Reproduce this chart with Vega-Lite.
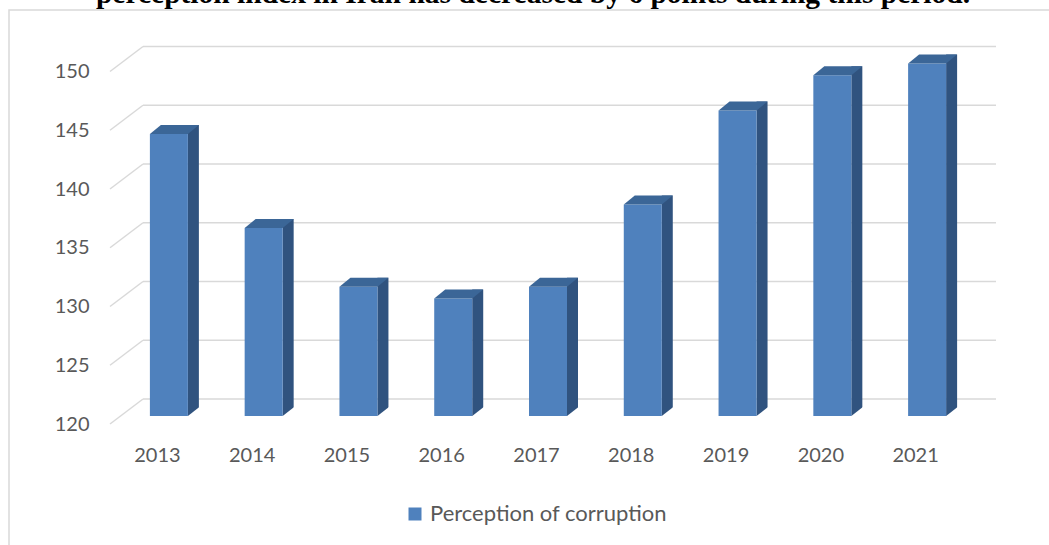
{
  "$schema": "https://vega.github.io/schema/vega-lite/v6.json",
  "autosize": {"type": "none"},
  "width": 1045,
  "height": 540,
  "padding": {"left": 9, "top": 10, "right": -5, "bottom": -5},
  "background": "white",
  "config": {"view": {"stroke": "#D9D9D9", "strokeWidth": 1.5}},
  "title": {
    "text": "perception index in Iran has decreased by 6 points during this period.",
    "font": "Liberation Serif",
    "fontSize": 29.5,
    "fontWeight": "bold",
    "color": "#000000",
    "anchor": "middle",
    "frame": "group",
    "baseline": "alphabetic",
    "offset": -22,
    "dx": 1.5
  },
  "datasets": {
    "bars": [
      {"year": "2013", "value": 144, "series": "Perception of corruption"},
      {"year": "2014", "value": 136, "series": "Perception of corruption"},
      {"year": "2015", "value": 131, "series": "Perception of corruption"},
      {"year": "2016", "value": 130, "series": "Perception of corruption"},
      {"year": "2017", "value": 131, "series": "Perception of corruption"},
      {"year": "2018", "value": 138, "series": "Perception of corruption"},
      {"year": "2019", "value": 146, "series": "Perception of corruption"},
      {"year": "2020", "value": 149, "series": "Perception of corruption"},
      {"year": "2021", "value": 150, "series": "Perception of corruption"}
    ],
    "grid": [
      {"v": 120}, {"v": 125}, {"v": 130}, {"v": 135}, {"v": 140}, {"v": 145}, {"v": 150}
    ]
  },
  "layer": [
    {
      "data": {"name": "grid"},
      "mark": {"type": "rule", "color": "#D9D9D9", "strokeWidth": 1.5, "xOffset": 33, "x2Offset": 33, "yOffset": -25},
      "encoding": {
        "x": {"datum": "2013", "type": "nominal", "bandPosition": 0,
              "scale": {"domain": ["2013","2014","2015","2016","2017","2018","2019","2020","2021"], "range": [101, 954], "paddingInner": 0, "paddingOuter": 0},
              "axis": {"title": null, "orient": "bottom", "offset": -88.3, "domain": false, "ticks": false, "tickSize": 0, "labelPadding": 0, "labelBaseline": "alphabetic", "labelFont": "Lato", "labelFontSize": 20, "labelColor": "#595959", "labelAngle": 0, "grid": false}},
        "x2": {"datum": "2021", "bandPosition": 1},
        "y": {"field": "v", "type": "quantitative",
              "scale": {"domain": [120, 150], "range": [414, 61.5], "nice": false, "zero": false},
              "axis": {"title": null, "orient": "left", "offset": -80, "domain": false, "ticks": false, "tickSize": 0, "labelPadding": 0, "labelBaseline": "middle", "labelFont": "Lato", "labelFontSize": 20, "labelColor": "#595959", "grid": false, "values": [120, 125, 130, 135, 140, 145, 150]}}
      }
    },
    {
      "data": {"name": "grid"},
      "mark": {"type": "rule", "color": "#D9D9D9", "strokeWidth": 1.5, "x2Offset": 33, "y2Offset": -25},
      "encoding": {
        "x": {"datum": "2013", "type": "nominal", "bandPosition": 0},
        "x2": {"datum": "2013", "bandPosition": 0},
        "y": {"field": "v", "type": "quantitative"},
        "y2": {"field": "v"}
      }
    },
    {
      "data": {"name": "bars"},
      "mark": {"type": "bar", "color": "#30537F", "width": 11, "xOffset": 36, "yOffset": -17, "y2Offset": -8},
      "encoding": {
        "x": {"field": "year", "type": "nominal"},
        "y": {"field": "value", "type": "quantitative"},
        "y2": {"datum": 120}
      }
    },
    {
      "data": {"name": "bars"},
      "mark": {"type": "point", "filled": true, "opacity": 1, "size": 4, "strokeWidth": 0, "color": "#FFFFFF", "xOffset": 11.5, "yOffset": -8,
               "shape": "M19,0 L30.5,-9 L32,-9 L32,1 L19,1 Z"},
      "encoding": {
        "x": {"field": "year", "type": "nominal"},
        "y": {"datum": 120, "type": "quantitative"}
      }
    },
    {
      "data": {"name": "bars"},
      "mark": {"type": "bar", "width": 38, "xOffset": 11.5, "yOffset": -8, "y2Offset": -8},
      "encoding": {
        "x": {"field": "year", "type": "nominal"},
        "y": {"field": "value", "type": "quantitative"},
        "y2": {"datum": 120},
        "color": {"field": "series", "type": "nominal", "scale": {"range": ["#4F81BD"]},
                  "legend": {"title": null, "orient": "none", "legendX": 395, "legendY": 493, "direction": "horizontal", "symbolType": "square", "symbolSize": 169, "symbolStrokeWidth": 0, "symbolOpacity": 1, "labelFont": "Lato", "labelFontSize": 22, "labelColor": "#595959", "labelOffset": 4, "labelLimit": 500, "padding": 0}}
      }
    },
    {
      "data": {"name": "bars"},
      "mark": {"type": "point", "filled": true, "opacity": 1, "size": 4, "strokeWidth": 0, "color": "#3B6697", "xOffset": 11.5, "yOffset": -8,
               "shape": "M-19,0 L19,0 L30,-9 L-8,-9 Z"},
      "encoding": {
        "x": {"field": "year", "type": "nominal"},
        "y": {"field": "value", "type": "quantitative"}
      }
    }
  ]
}
